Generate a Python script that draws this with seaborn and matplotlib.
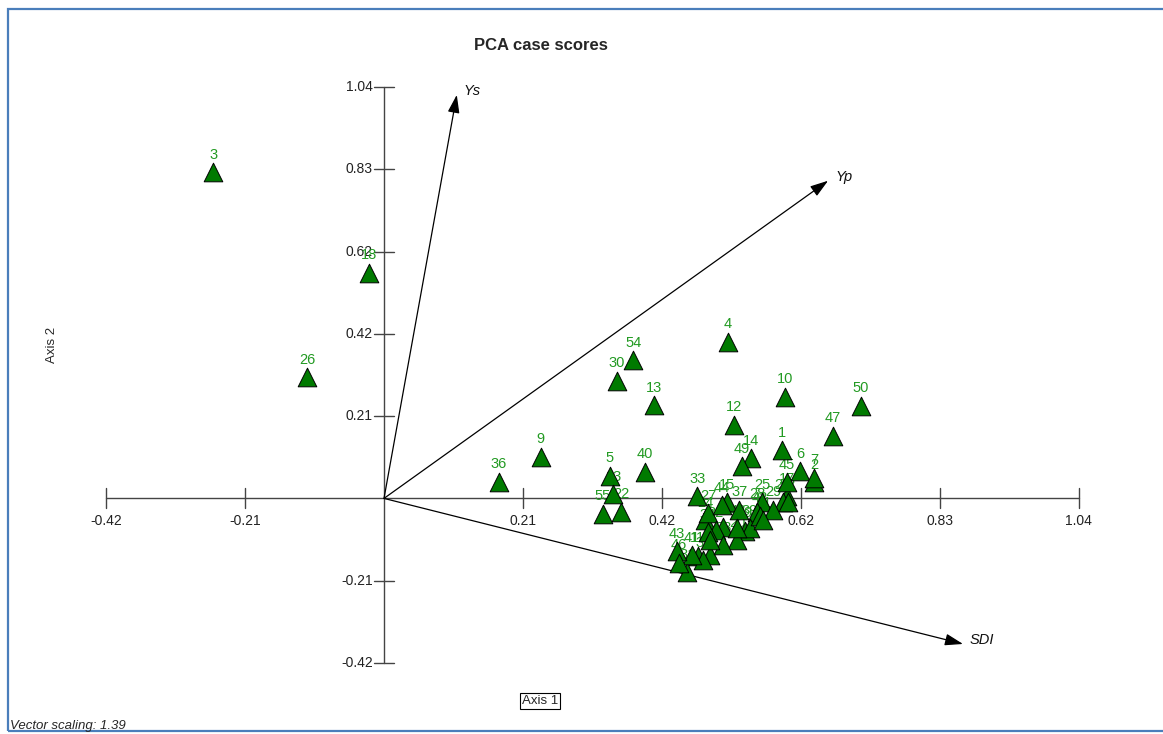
import numpy as np
import pandas as pd
import matplotlib
matplotlib.use("Agg")
import matplotlib.pyplot as plt
import seaborn as sns
from matplotlib.patches import Rectangle

# ---------------- data ----------------
case_ids = [str(i) for i in range(1, 56)]
axis1 = [0.596, 0.644, -0.256, 0.515, 0.338, 0.623, 0.644, 0.508, 0.235, 0.600,
         0.470, 0.524, 0.404, 0.550, 0.514, 0.488, 0.603, -0.022, 0.541, 0.529,
         0.597, 0.355, 0.343, 0.481, 0.566, -0.115, 0.485, 0.559, 0.583, 0.349,
         0.454, 0.497, 0.469, 0.485, 0.478, 0.172, 0.532, 0.508, 0.548, 0.391,
         0.461, 0.563, 0.439, 0.506, 0.603, 0.442, 0.672, 0.529, 0.536, 0.714,
         0.568, 0.605, 0.488, 0.373, 0.328]
axis2 = [0.122, 0.041, 0.825, 0.396, 0.057, 0.069, 0.052, -0.072, 0.105, 0.257,
         -0.145, 0.186, 0.236, 0.102, -0.009, -0.143, 0.006, 0.570, -0.082, -0.105,
         -0.009, -0.034, 0.011, -0.055, -0.009, 0.307, -0.037, -0.034, -0.029, 0.297,
         -0.186, -0.080, 0.006, -0.085, -0.156, 0.042, -0.029, -0.118, -0.075, 0.067,
         -0.143, -0.044, -0.133, -0.017, 0.041, -0.163, 0.158, -0.075, 0.082, 0.234,
         -0.055, -0.009, -0.105, 0.350, -0.039]

vector_names = ["Ys", "Yp", "SDI"]
vector_x = [0.109, 0.665, 0.867]
vector_y = [1.020, 0.803, -0.368]

tick_values = [-0.416, -0.208, 0.208, 0.416, 0.624, 0.832, 1.04]
tick_labels = ["-0.42", "-0.21", "0.21", "0.42", "0.62", "0.83", "1.04"]

title = "PCA case scores"
x_title = "Axis 1"
y_title = "Axis 2"
footnote = "Vector scaling: 1.39"

# ---------------- style ----------------
sns.set_style("white")
plt.rcParams["font.family"] = ["Liberation Sans", "DejaVu Sans"]

W, H = 1163, 734
fig = plt.figure(figsize=(W / 100, H / 100), dpi=100)
ax = fig.add_axes([0, 0, 1, 1])
ax.set_axis_off()

# pixel <-> data mapping of the reference
x0_px, y0_px = 384.0, 498.4
sx, sy = 667.8, 395.6
ax.set_xlim(-x0_px / sx, (W - x0_px) / sx)
ax.set_ylim((y0_px - H) / sy, y0_px / sy)

lo, hi = tick_values[0], tick_values[-1]
tx = 10 / sx
ty = 10 / sy
axis_col = "#444444"

# axis lines through origin
ax.plot([lo, hi], [0, 0], color=axis_col, lw=1.0, zorder=1)
ax.plot([0, 0], [lo, hi], color=axis_col, lw=1.0, zorder=1)
for v, lab in zip(tick_values, tick_labels):
    ax.plot([v, v], [-ty, ty], color=axis_col, lw=1.0, zorder=1)
    ax.annotate(lab, xy=(v, 0), xytext=(0, -16), textcoords="offset points",
                ha="center", va="center", fontsize=10, color="#222222")
    ax.plot([-tx, tx], [v, v], color=axis_col, lw=1.0, zorder=1)
    ax.annotate(lab, xy=(0, v), xytext=(-8, 0), textcoords="offset points",
                ha="right", va="center", fontsize=10, color="#222222")

# biplot vectors
for name, vx, vy in zip(vector_names, vector_x, vector_y):
    ax.annotate("", xy=(vx, vy), xytext=(0, 0),
                arrowprops=dict(arrowstyle="-|>,head_length=0.55,head_width=0.18",
                                mutation_scale=20, color="black", lw=0.9,
                                shrinkA=0, shrinkB=0), zorder=2)
    ax.annotate(name, xy=(vx, vy), xytext=(5, 3), textcoords="offset points",
                ha="left", va="center", fontsize=10.5, style="italic", color="#111111")

# case scores
df = pd.DataFrame({"case": case_ids, "Axis1": axis1, "Axis2": axis2})
for c, x, y in zip(df["case"], df["Axis1"], df["Axis2"]):
    ax.annotate(c, xy=(x, y), xytext=(0, 7.5), textcoords="offset points",
                ha="center", va="bottom", fontsize=10.5, color="#229a22", zorder=3)
sns.scatterplot(data=df, x="Axis1", y="Axis2", marker="^", s=180,
                color="#007a00", edgecolor="black", linewidth=0.7,
                legend=False, ax=ax, zorder=4)
ax.set_axis_off()

# texts
fig.text(541 / W, 1 - 46 / H, title, ha="center", va="center",
         fontsize=12, fontweight="bold")
fig.text(52 / W, 1 - 345 / H, y_title, ha="center", va="center",
         rotation=90, fontsize=9.5)
fig.text(540 / W, 1 - 701 / H, x_title, ha="center", va="center", fontsize=9.5,
         bbox=dict(boxstyle="square,pad=0.15", fc="white", ec="black", lw=0.8))
fig.text(10 / W, 1 - 726 / H, footnote, ha="left", va="center",
         fontsize=9.5, style="italic")

# blue frame
fig.patches.append(Rectangle((8 / W, 3 / H), 1.2, 1 - 12 / H,
                             transform=fig.transFigure, fill=False,
                             ec="#4a7ebb", lw=1.6, clip_on=False))

fig.savefig("out.png", dpi=100)
